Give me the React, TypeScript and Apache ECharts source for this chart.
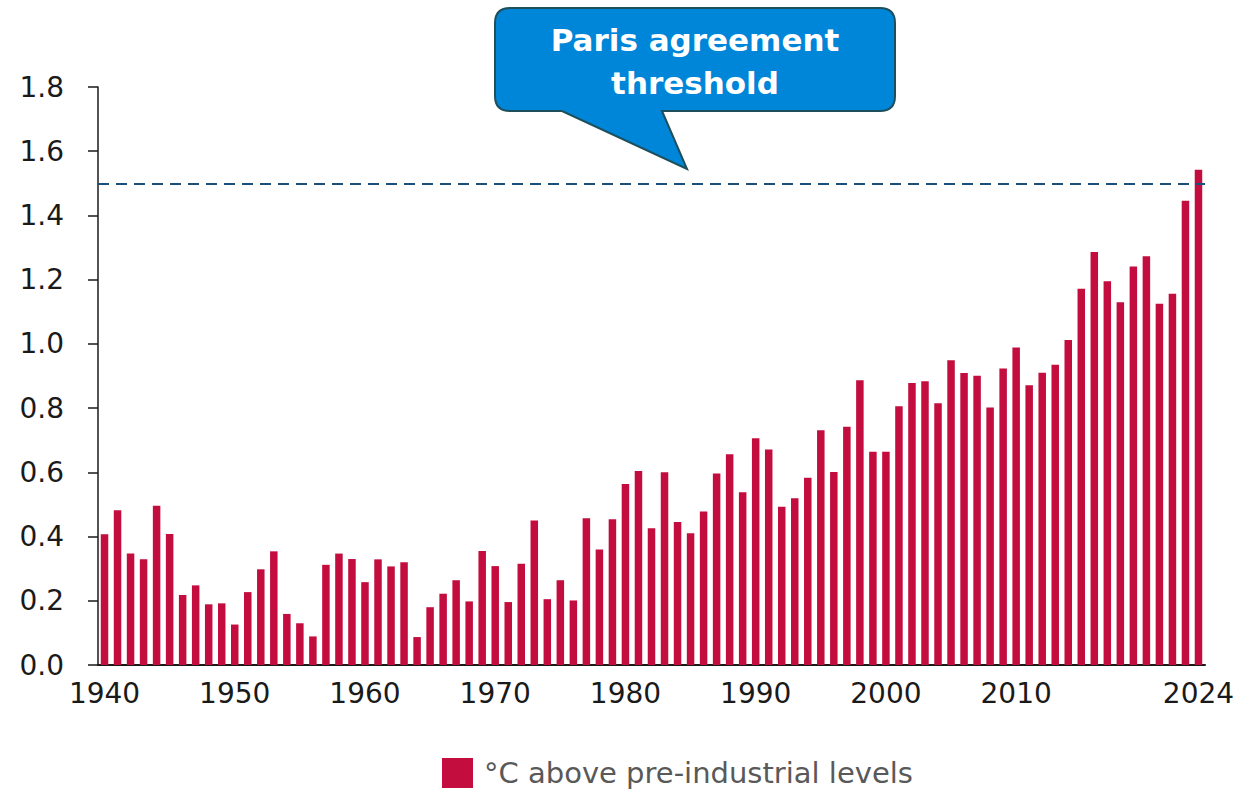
import React, { useEffect, useRef } from "react";
import * as echarts from "echarts";

const years: string[] = [];
for (let y = 1940; y <= 2024; y++) years.push(String(y));

const anomalies: number[] = [
  0.407, 0.482, 0.347, 0.329, 0.496, 0.408, 0.218, 0.248, 0.189, 0.192,
  0.126, 0.227, 0.298, 0.354, 0.159, 0.130, 0.089, 0.312, 0.347, 0.330,
  0.258, 0.329, 0.307, 0.320, 0.087, 0.180, 0.222, 0.264, 0.198, 0.355,
  0.308, 0.196, 0.315, 0.450, 0.205, 0.264, 0.201, 0.457, 0.360, 0.454,
  0.564, 0.604, 0.426, 0.600, 0.445, 0.410, 0.478, 0.596, 0.656, 0.538,
  0.706, 0.671, 0.493, 0.519, 0.583, 0.731, 0.601, 0.742, 0.887, 0.664,
  0.664, 0.806, 0.878, 0.884, 0.815, 0.949, 0.909, 0.901, 0.802, 0.923,
  0.989, 0.871, 0.910, 0.935, 1.012, 1.172, 1.286, 1.195, 1.130, 1.241,
  1.273, 1.125, 1.156, 1.446, 1.542,
];

const shownYearLabels: string[] = ["1940", "1950", "1960", "1970", "1980", "1990", "2000", "2010", "2024"];
const seriesName = "°C above pre-industrial levels";
const parisThreshold = 1.5;
const calloutLines: string[] = ["Paris agreement", "threshold"];

const calloutPath =
  "M 510 8 L 880 8 Q 895 8 895 23 L 895 96 Q 895 111 880 111 L 662 111 L 687 169 L 562 111 L 510 111 Q 495 111 495 96 L 495 23 Q 495 8 510 8 Z";

let registered = false;

export default function App() {
  const ref = useRef<HTMLDivElement>(null);
  useEffect(() => {
    if (!ref.current) return;
    if (!registered) {
      echarts.graphic.registerShape("callout", echarts.graphic.extendPath(calloutPath, {}) as any);
      registered = true;
    }
    const chart = echarts.init(ref.current, undefined, { renderer: "svg" });
    const font = "'DejaVu Sans', 'Liberation Sans', sans-serif";
    chart.setOption({
      animation: false,
      backgroundColor: "#ffffff",
      grid: { left: 98, right: 37, top: 87, bottom: 134, containLabel: false },
      legend: {
        data: [seriesName],
        left: 442,
        top: 758,
        padding: 0,
        icon: "rect",
        itemWidth: 31,
        itemHeight: 30,
        itemGap: 12,
        textStyle: { fontSize: 29, color: "#595959", fontFamily: font, padding: [0, 0, 0, 6] },
      },
      xAxis: {
        type: "category",
        data: years,
        boundaryGap: true,
        axisTick: { show: false },
        axisLine: { show: true, lineStyle: { color: "#1a1a1a", width: 2 } },
        axisLabel: {
          interval: (_i: number, v: string) => shownYearLabels.includes(v),
          margin: 14,
          fontSize: 28,
          color: "#1a1a1a",
          fontFamily: font,
        },
        splitLine: { show: false },
      },
      yAxis: {
        type: "value",
        min: 0,
        max: 1.8,
        interval: 0.2,
        axisLine: { show: true, lineStyle: { color: "#1a1a1a", width: 1.5 } },
        axisTick: { show: true, length: 10, lineStyle: { color: "#1a1a1a", width: 1.5 } },
        axisLabel: {
          formatter: (v: number) => v.toFixed(1),
          margin: 34,
          fontSize: 28,
          color: "#1a1a1a",
          fontFamily: font,
        },
        splitLine: { show: false },
      },
      series: [
        {
          name: seriesName,
          type: "bar",
          data: anomalies,
          barWidth: 7.5,
          itemStyle: { color: "#C30D3F" },
          markLine: {
            silent: true,
            symbol: "none",
            label: { show: false },
            lineStyle: { color: "#1B4F7A", width: 2, type: [11, 7] },
            data: [{ yAxis: parisThreshold }],
          },
        },
      ],
      graphic: [
        {
          type: "callout",
          x: 0,
          y: 0,
          z: 100,
          style: { fill: "#0086D8", stroke: "#1D4F5C", lineWidth: 2 },
        },
        {
          type: "text",
          z: 101,
          x: 695,
          y: 40,
          style: {
            text: calloutLines[0],
            fill: "#ffffff",
            font: `bold 31px ${font}`,
            textAlign: "center",
            textVerticalAlign: "middle",
          },
        },
        {
          type: "text",
          z: 101,
          x: 695,
          y: 83,
          style: {
            text: calloutLines[1],
            fill: "#ffffff",
            font: `bold 31px ${font}`,
            textAlign: "center",
            textVerticalAlign: "middle",
          },
        },
      ],
    });
    return () => chart.dispose();
  }, []);
  return (
    <div
      ref={ref}
      style={{ position: "fixed", left: 0, top: 0, width: 1242, height: 799, background: "#fff" }}
    />
  );
}
